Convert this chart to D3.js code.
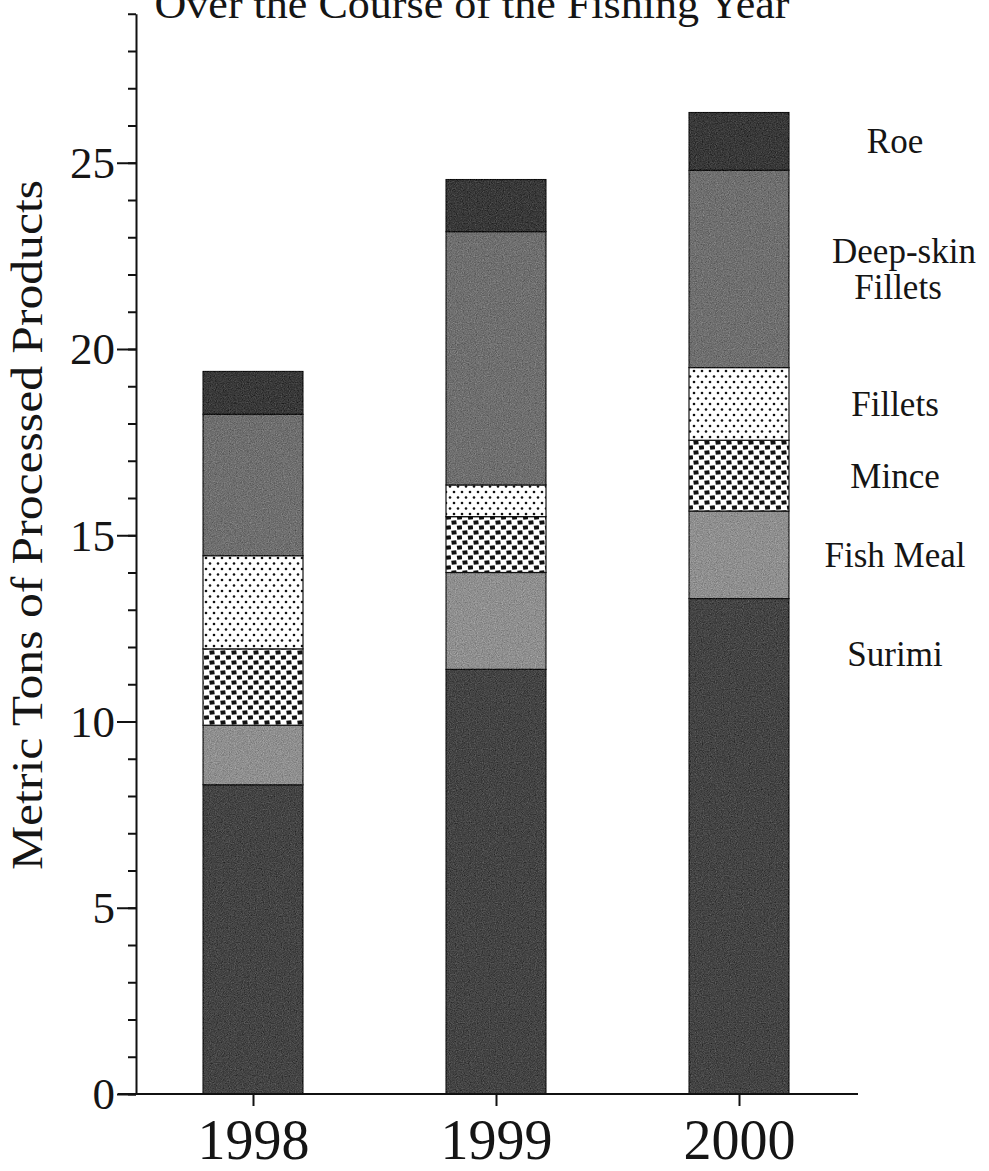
<!DOCTYPE html>
<html>
<head>
<meta charset="utf-8">
<script src="https://cdn.jsdelivr.net/npm/d3@7"></script>
<style>
  body { margin: 0; background: #fff; }
  svg { display: block; }
  text { font-family: "Liberation Serif", "Times New Roman", serif; fill: #151515; }
</style>
</head>
<body>
<svg></svg>
<script>
// values (metric tons, stacked bottom -> top)
var years = ["1998", "1999", "2000"];
var products = ["Surimi", "Fish Meal", "Mince", "Fillets", "Deep-skin Fillets", "Roe"];
var surimi   = [8.3, 11.4, 13.3];
var fishMeal = [1.6, 2.6, 2.35];
var mince    = [2.05, 1.5, 1.9];
var fillets  = [2.5, 0.85, 1.95];
var deepSkin = [3.8, 6.8, 5.3];
var roe      = [1.15, 1.4, 1.55];
var yMajor = [0, 5, 10, 15, 20, 25];
var yMinor = d3.range(0, 30);

var width = 989, height = 1171;

var svg = d3.select("svg")
    .attr("width", width)
    .attr("height", height);

// table for the stack
var table = years.map(function (yr, i) {
    return {
        year: yr,
        "Surimi": surimi[i],
        "Fish Meal": fishMeal[i],
        "Mince": mince[i],
        "Fillets": fillets[i],
        "Deep-skin Fillets": deepSkin[i],
        "Roe": roe[i]
    };
});
var series = d3.stack().keys(products)(table);

var y = d3.scaleLinear().domain([0, 29]).range([1094, 13.75]);
var x = d3.scalePoint().domain(years).range([253, 739]);
var barW = 100;

// textures
var defs = svg.append("defs");
var grain = defs.append("filter").attr("id", "grain")
    .attr("color-interpolation-filters", "sRGB");
grain.append("feTurbulence")
    .attr("type", "fractalNoise").attr("baseFrequency", 0.85)
    .attr("numOctaves", 2).attr("seed", 7).attr("result", "n");
// grey noise, fully opaque
grain.append("feColorMatrix")
    .attr("in", "n").attr("type", "matrix")
    .attr("values", "0.33 0.33 0.33 0 0  0.33 0.33 0.33 0 0  0.33 0.33 0.33 0 0  0 0 0 0 1")
    .attr("result", "g");
grain.append("feComposite")
    .attr("in", "SourceGraphic").attr("in2", "g").attr("operator", "arithmetic")
    .attr("k1", 0).attr("k2", 1).attr("k3", 0.55).attr("k4", -0.27).attr("result", "c");
grain.append("feComposite")
    .attr("in", "c").attr("in2", "SourceGraphic").attr("operator", "in");

var dots = defs.append("pattern").attr("id", "dots")
    .attr("patternUnits", "userSpaceOnUse").attr("width", 8).attr("height", 11);
dots.append("rect").attr("width", 8).attr("height", 11).attr("fill", "#fff");
dots.append("circle").attr("cx", 2).attr("cy", 2.5).attr("r", 1.3).attr("fill", "#111");
dots.append("circle").attr("cx", 6).attr("cy", 8).attr("r", 1.3).attr("fill", "#111");

var squares = defs.append("pattern").attr("id", "squares")
    .attr("patternUnits", "userSpaceOnUse").attr("width", 11).attr("height", 10);
squares.append("rect").attr("width", 11).attr("height", 10).attr("fill", "#fff");
squares.append("rect").attr("x", 0.5).attr("y", 0.5).attr("width", 5).attr("height", 4).attr("fill", "#111")
    .attr("transform", "rotate(-8 3 2.5)");
squares.append("rect").attr("x", 6).attr("y", 5.5).attr("width", 5).attr("height", 4).attr("fill", "#111")
    .attr("transform", "rotate(-8 8.5 7.5)");

var fills = {
    "Surimi": "#434343",
    "Fish Meal": "#8e8e8e",
    "Mince": "url(#squares)",
    "Fillets": "url(#dots)",
    "Deep-skin Fillets": "#6e6e6e",
    "Roe": "#383838"
};
var textured = { "Surimi": 1, "Fish Meal": 1, "Deep-skin Fillets": 1, "Roe": 1 };

// bars
svg.append("g").selectAll("g")
    .data(series)
    .enter().append("g")
    .selectAll("rect")
    .data(function (s) { return s.map(function (d) { d.key = s.key; return d; }); })
    .enter().append("rect")
    .attr("x", function (d) { return x(d.data.year) - barW / 2; })
    .attr("y", function (d) { return y(d[1]); })
    .attr("width", barW)
    .attr("height", function (d) { return y(d[0]) - y(d[1]); })
    .attr("fill", function (d) { return fills[d.key]; })
    .attr("filter", function (d) { return textured[d.key] ? "url(#grain)" : null; })
    .attr("stroke", "#111")
    .attr("stroke-width", 1.2);

// y axis: minor then major ticks
var yMinorAxis = svg.append("g")
    .attr("transform", "translate(136,0)")
    .call(d3.axisLeft(y).tickValues(yMinor).tickSize(8).tickSizeOuter(0).tickFormat(""));
yMinorAxis.selectAll("path, line").attr("stroke", "#111").attr("stroke-width", 2);

var yMajorAxis = svg.append("g")
    .attr("transform", "translate(136,0)")
    .call(d3.axisLeft(y).tickValues(yMajor).tickSize(19).tickSizeOuter(0).tickPadding(2));
yMajorAxis.select(".domain").remove();
yMajorAxis.selectAll("line").attr("stroke", "#111").attr("stroke-width", 2);
yMajorAxis.selectAll("text")
    .style("font-family", "'Liberation Serif', serif")
    .style("font-size", "45px")
    .attr("fill", "#151515")
    .attr("dy", "0.33em");

// x axis
svg.append("line")
    .attr("x1", 118).attr("x2", 858)
    .attr("y1", y(0)).attr("y2", y(0))
    .attr("stroke", "#111").attr("stroke-width", 2);
var xAxis = svg.append("g")
    .attr("transform", "translate(0," + y(0) + ")")
    .call(d3.axisBottom(x).tickSize(12).tickSizeOuter(0));
xAxis.select(".domain").remove();
xAxis.selectAll("line").attr("stroke", "#111").attr("stroke-width", 2);
xAxis.selectAll("text")
    .style("font-family", "'Liberation Serif', serif")
    .style("font-size", "56px")
    .attr("fill", "#151515")
    .attr("y", 65)
    .attr("dy", null);

// y axis title
svg.append("text")
    .attr("transform", "translate(42,525) rotate(-90)")
    .attr("text-anchor", "middle")
    .attr("textLength", 690)
    .attr("lengthAdjust", "spacingAndGlyphs")
    .style("font-size", "44px")
    .text("Metric Tons of Processed Products");

// title (its top is cut off by the page edge, as in the source)
svg.append("text")
    .attr("x", 472).attr("y", 18)
    .attr("text-anchor", "middle")
    .attr("textLength", 635)
    .attr("lengthAdjust", "spacingAndGlyphs")
    .style("font-size", "42px")
    .text("Over the Course of the Fishing Year");

// segment labels, next to the 2000 bar
var last = series.map(function (s) { return { key: s.key, d: s[s.length - 1] }; });
var labels = svg.append("g").attr("text-anchor", "middle").style("font-size", "35px");
last.forEach(function (l) {
    var mid = l.key === "Surimi" ? y(11.8) : (y(l.d[0]) + y(l.d[1])) / 2;
    if (l.key === "Deep-skin Fillets") {
        labels.append("text").attr("x", 904).attr("y", mid - 6).text("Deep-skin");
        labels.append("text").attr("x", 898).attr("y", mid + 30).text("Fillets");
    } else {
        labels.append("text").attr("x", 895).attr("y", mid + 12).text(l.key);
    }
});
</script>
</body>
</html>
